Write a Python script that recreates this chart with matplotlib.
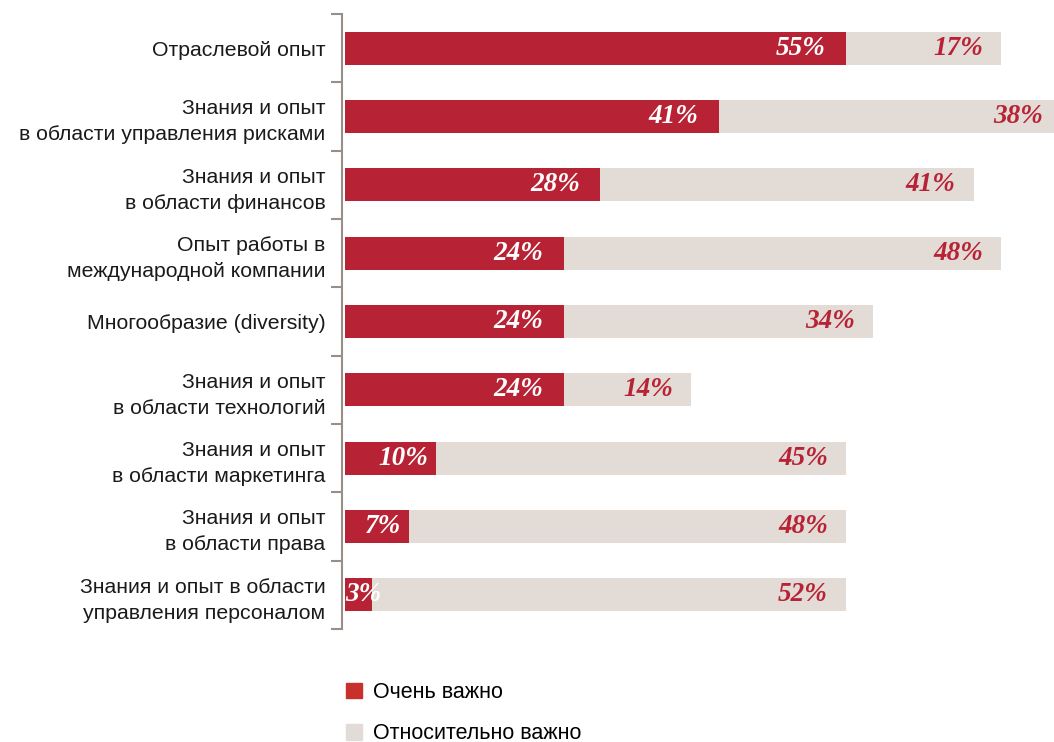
import matplotlib.pyplot as plt
from matplotlib.patches import Patch

# Данные
categories = [
    "Отраслевой опыт",
    "Знания и опыт\nв области управления рисками",
    "Знания и опыт\nв области финансов",
    "Опыт работы в\nмеждународной компании",
    "Многообразие (diversity)",
    "Знания и опыт\nв области технологий",
    "Знания и опыт\nв области маркетинга",
    "Знания и опыт\nв области права",
    "Знания и опыт в области\nуправления персоналом",
]
very_important = [55, 41, 28, 24, 24, 24, 10, 7, 3]
rather_important = [17, 38, 41, 48, 34, 14, 45, 48, 52]
legend_labels = ["Очень важно", "Относительно важно"]

RED = "#B82235"
BEIGE = "#E2DBD6"
LEG_RED = "#C8302C"
AXIS = "#9A8F88"

W, H = 1054, 742
fig = plt.figure(figsize=(W / 100, H / 100), dpi=100)

# оси в пикселях: слева 345, полосы от y=14 до y=629
px_per_pct = 9.11
left_px, top_px, bot_px = 345, 14, 629
ax = fig.add_axes([left_px / W, 1 - bot_px / H, 1 - left_px / W, (bot_px - top_px) / H])
xmax = (W - left_px) / px_per_pct
ax.set_xlim(0, xmax)
ax.set_ylim(len(categories) - 0.5, -0.5)

y = range(len(categories))
ax.barh(y, very_important, height=0.48, color=RED, zorder=2)
ax.barh(y, rather_important, left=very_important, height=0.48, color=BEIGE, zorder=2)

lab_font = dict(family="Liberation Serif", fontsize=19.5, fontweight="bold", style="italic")
for i, (a, b) in enumerate(zip(very_important, rather_important)):
    # подпись в красной полосе
    off = 20 if a >= 20 else 8
    xr = max(a - off / px_per_pct, 36 / px_per_pct)
    ax.text(xr, i, f"{a}%", ha="right", va="center", color="white", **lab_font, zorder=3)
    # подпись в бежевой полосе
    if a + b > xmax:
        xe = xmax - 11 / px_per_pct
    else:
        xe = a + b - 18 / px_per_pct
    ax.text(xe, i, f"{b}%", ha="right", va="center", color=RED, **lab_font, zorder=3)

# ось Y со штрихами между категориями
for s in ["top", "right", "bottom"]:
    ax.spines[s].set_visible(False)
ax.spines["left"].set_position(("outward", 2))
ax.spines["left"].set_color(AXIS)
ax.spines["left"].set_linewidth(1.5)
ax.set_xticks([])
ax.set_yticks(list(y))
ax.set_yticklabels(categories, fontsize=15.3, family="Liberation Sans", color="#1a1a1a",
                   linespacing=1.45)
ax.tick_params(axis="y", which="major", length=0, pad=12)
ax.set_yticks([i - 0.5 for i in range(len(categories) + 1)], minor=True)
ax.tick_params(axis="y", which="minor", length=8, width=1.5, color=AXIS)
ax.patch.set_visible(False)

handles = [Patch(color=LEG_RED), Patch(color=BEIGE)]
fig.legend(handles, legend_labels, loc="upper left", bbox_to_anchor=(346 / W, 1 - 682 / H),
           frameon=False, borderpad=0, borderaxespad=0, handlelength=0.75, handleheight=0.75,
           handletextpad=0.5, labelspacing=0.95,
           prop=dict(family="Liberation Sans", size=15.5))

plt.savefig("out.png", dpi=100)
